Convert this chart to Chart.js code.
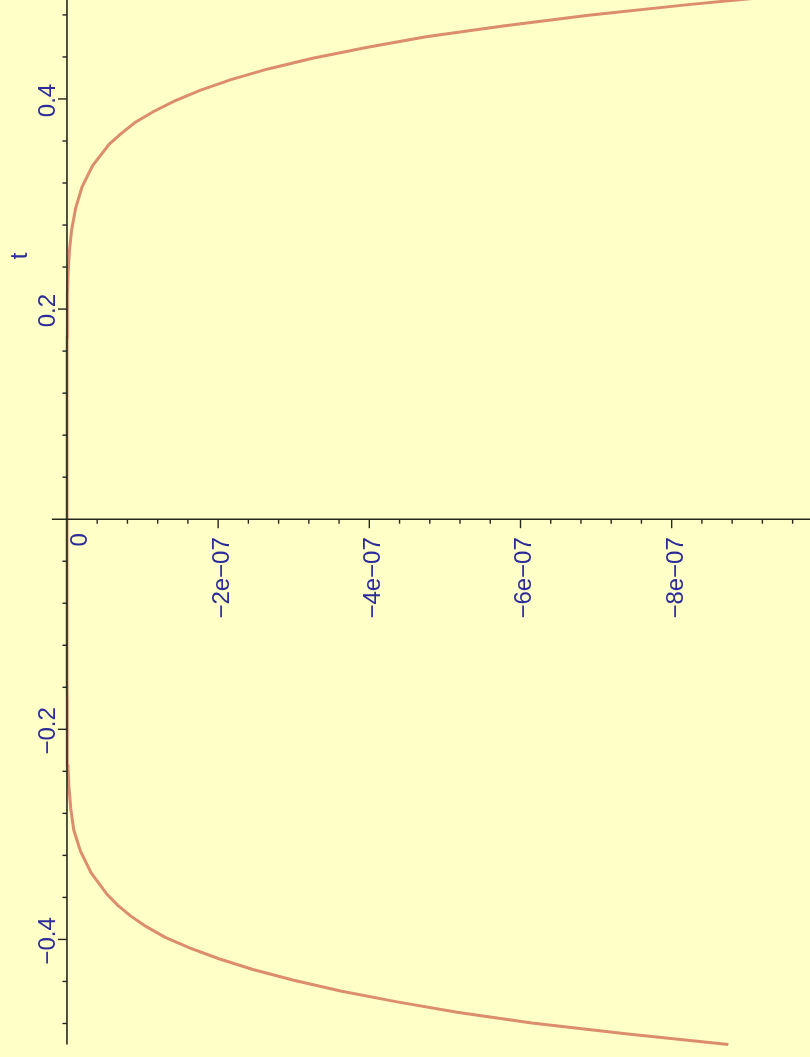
<!DOCTYPE html>
<html>
<head>
<meta charset="utf-8">
<script src="https://cdn.jsdelivr.net/npm/chart.js@4.4.1/dist/chart.umd.min.js"></script>
<style>
  html, body { margin: 0; padding: 0; background: #ffffc8; }
  canvas { display: block; }
</style>
</head>
<body>
<canvas id="plot" width="810" height="1057"></canvas>
<script>
// Parameter t (vertical axis) and the curve value at each t (horizontal axis);
// the steep outer parts are sampled more densely.
const tValues = [
  -0.5000, -0.4898, -0.4796, -0.4694, -0.4592, -0.4490, -0.4388, -0.4286, -0.4184, -0.4082,
  -0.3980, -0.3878, -0.3776, -0.3673, -0.3571, -0.3367, -0.3163,
  -0.2959, -0.2755, -0.2551, -0.2347, -0.2143, -0.1939, -0.1735, -0.1531, -0.1327, -0.1122,
  -0.0918, -0.0714, -0.0510, -0.0306, -0.0102,  0.0102,  0.0306,  0.0510,  0.0714,  0.0918,
   0.1122,  0.1327,  0.1531,  0.1735,  0.1939,  0.2143,  0.2347,  0.2551,  0.2755,  0.2959,
   0.3163,  0.3367,  0.3571,  0.3673,  0.3776,  0.3878,  0.3980,  0.4082,  0.4184,  0.4286,
   0.4388,  0.4490,  0.4592,  0.4694,  0.4796,  0.4898,  0.5000
];
const curveValues = [
  -8.75e-7, -7.39e-7, -6.15e-7, -5.16e-7, -4.35e-7, -3.62e-7, -3.00e-7, -2.46e-7, -2.01e-7, -1.63e-7,
  -1.30e-7, -1.05e-7, -8.4e-8, -6.7e-8, -5.3e-8, -3.2e-8, -1.8e-8,
  -9.0e-9, -5.0e-9, -2.6e-9, -1.3e-9, -6.0e-10, -2.5e-10, -1.0e-10, 0, 0, 0,
  0, 0, 0, 0, 0, 0, 0, 0, 0, 0,
  0, 0, 0, -1.0e-10, -3.0e-10, -7.0e-10, -1.6e-9, -3.2e-9, -6.2e-9, -1.14e-8,
  -2.0e-8, -3.4e-8, -5.6e-8, -7.2e-8, -9.0e-8, -1.14e-7, -1.42e-7, -1.76e-7, -2.17e-7, -2.66e-7,
  -3.25e-7, -3.96e-7, -4.75e-7, -5.77e-7, -6.90e-7, -8.22e-7, -9.70e-7
];

// Axis ticks and labels
const xTickValues = [0, -2e-7, -4e-7, -6e-7, -8e-7];
const xTickLabels = ['0', '\u22122e\u221207', '\u22124e\u221207', '\u22126e\u221207', '\u22128e\u221207'];
const yTickValues = [-0.4, -0.2, 0.2, 0.4];
const yTickLabels = ['\u22120.4', '\u22120.2', '0.2', '0.4'];
const axisTitle = 't';

const BG = '#ffffc8';
const INK = '#2b2b9a';
const AXIS = '#262620';
const FONT = '24px "Liberation Sans", Arial, sans-serif';

const points = tValues.map((t, i) => ({ x: curveValues[i], y: t }));

const background = {
  id: 'background',
  beforeDraw(chart) {
    const c = chart.ctx;
    c.save();
    c.fillStyle = BG;
    c.fillRect(0, 0, chart.width, chart.height);
    c.restore();
  }
};

// Axes crossing at the origin, with tick marks and rotated labels
const crossAxes = {
  id: 'crossAxes',
  afterDatasetsDraw(chart) {
    const c = chart.ctx;
    const xs = chart.scales.x, ys = chart.scales.y;
    const x0 = xs.getPixelForValue(0);
    const y0 = ys.getPixelForValue(0);
    c.save();
    c.strokeStyle = AXIS;
    c.lineWidth = 1.6;

    // vertical (t) axis
    c.beginPath();
    c.moveTo(x0, ys.getPixelForValue(-0.5));
    c.lineTo(x0, 0);
    c.stroke();
    // horizontal axis
    c.beginPath();
    c.moveTo(xs.getPixelForValue(2e-8), y0);
    c.lineTo(chart.width, y0);
    c.stroke();

    // t-axis ticks
    c.lineWidth = 1.4;
    for (let k = -12; k <= 12; k++) {
      if (k === 0) continue;
      const py = ys.getPixelForValue(k * 0.04);
      const len = (k % 5 === 0) ? 9 : 4.5;
      c.beginPath();
      c.moveTo(x0 - len, py);
      c.lineTo(x0, py);
      c.stroke();
    }
    // horizontal-axis ticks
    for (let k = 1; k <= 24; k++) {
      const px = xs.getPixelForValue(-k * 4e-8);
      const len = (k % 5 === 0) ? 9 : 4.5;
      c.beginPath();
      c.moveTo(px, y0);
      c.lineTo(px, y0 + len);
      c.stroke();
    }

    c.fillStyle = INK;
    c.font = FONT;
    c.textBaseline = 'alphabetic';

    // horizontal-axis labels, reading upward
    c.textAlign = 'right';
    xTickValues.forEach((v, i) => {
      const px = xs.getPixelForValue(v);
      const isZero = v === 0;
      c.save();
      c.translate(px + (isZero ? 20 : 11), y0 + (isZero ? 14 : 18));
      c.rotate(-Math.PI / 2);
      c.fillText(xTickLabels[i], 0, 0);
      c.restore();
    });

    // t-axis labels, reading upward
    c.textAlign = 'center';
    yTickValues.forEach((v, i) => {
      const py = ys.getPixelForValue(v);
      c.save();
      c.translate(x0 - 12, py + 1.5);
      c.rotate(-Math.PI / 2);
      c.fillText(yTickLabels[i], 0, 0);
      c.restore();
    });

    // axis title
    c.save();
    c.translate(27, 256);
    c.rotate(-Math.PI / 2);
    c.fillText(axisTitle, 0, 0);
    c.restore();

    c.restore();
  }
};

new Chart(document.getElementById('plot'), {
  type: 'scatter',
  data: {
    datasets: [{
      data: points,
      showLine: true,
      borderColor: '#dc8e6c',
      borderWidth: 3,
      pointRadius: 0,
      tension: 0,
      fill: false
    }]
  },
  options: {
    responsive: false,
    animation: false,
    layout: { padding: 0 },
    plugins: { legend: { display: false }, tooltip: { enabled: false } },
    scales: {
      x: { type: 'linear', display: false, reverse: true, min: -9.83e-7, max: 0.886e-7 },
      y: { type: 'linear', display: false, min: -0.5119, max: 0.4942 }
    }
  },
  plugins: [background, crossAxes]
});
</script>
</body>
</html>
